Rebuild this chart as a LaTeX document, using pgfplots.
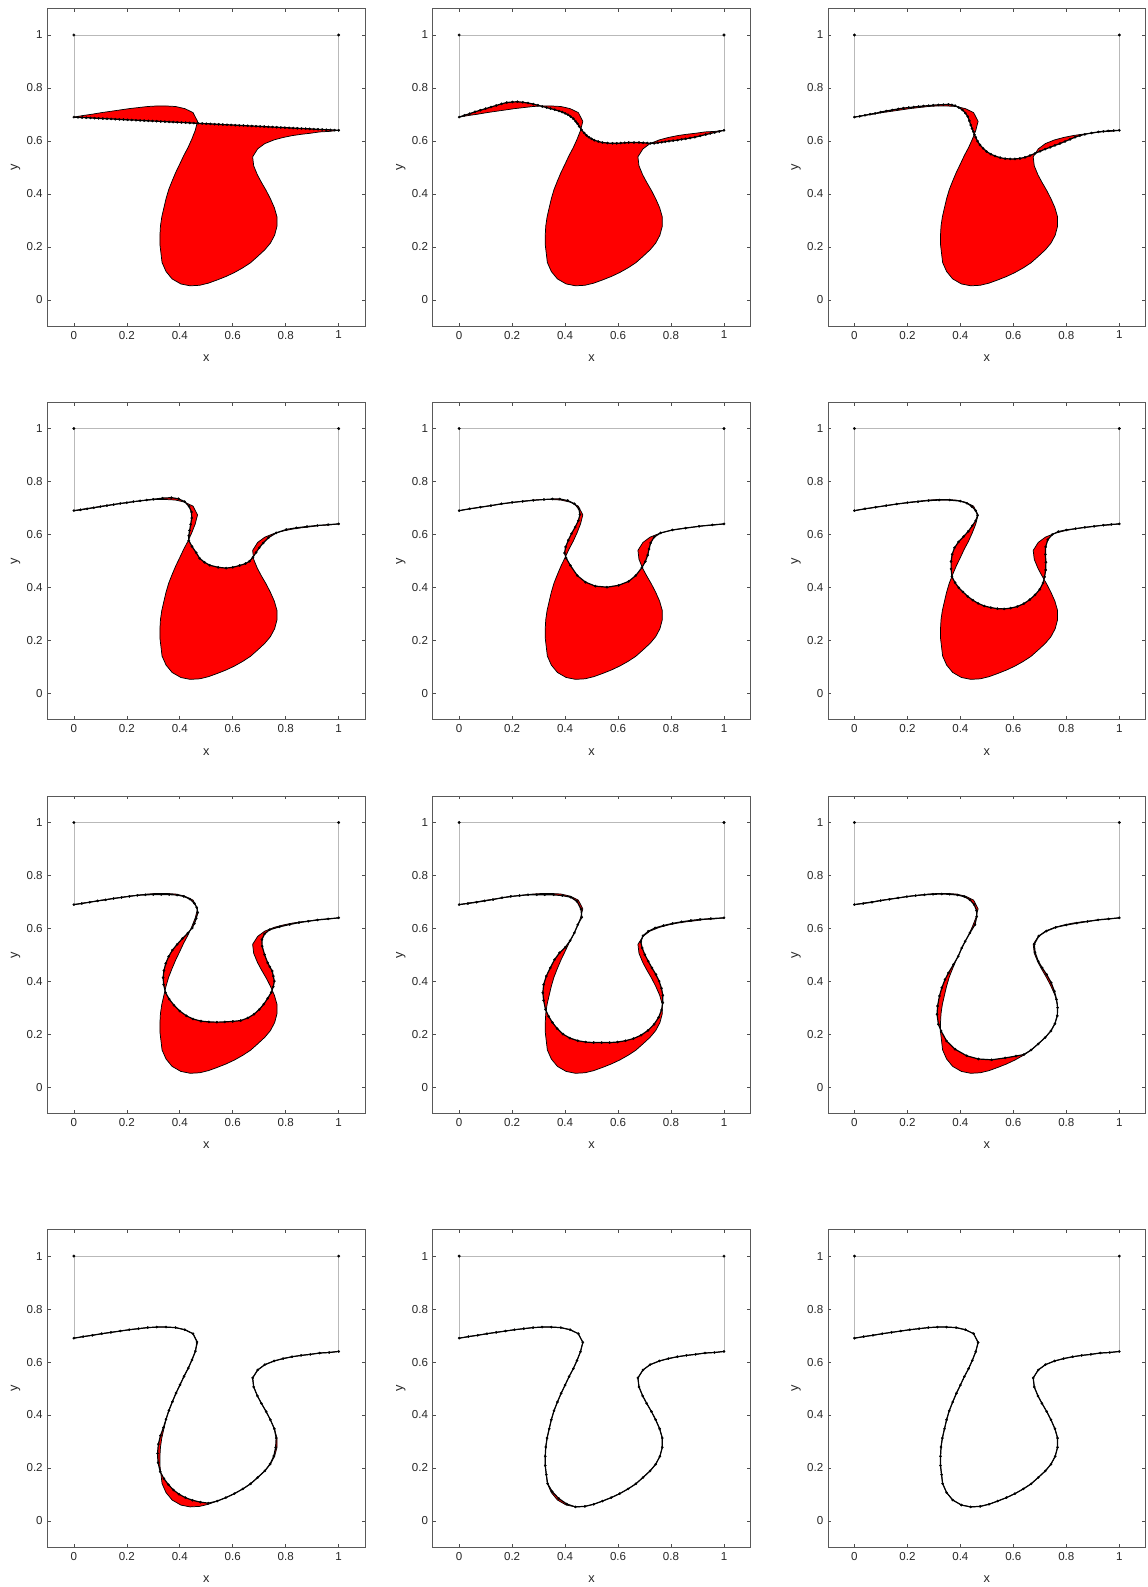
\documentclass[border=0pt]{standalone}
\usepackage{fontspec}
\setmainfont{Liberation Sans}
\usepackage{pgfplots}
\pgfplotsset{compat=1.18}
\usepackage{pgfplotstable}

% target curve
\pgfplotstableread{
x y
0.000 0.690
0.035 0.696
0.070 0.701
0.105 0.707
0.140 0.712
0.175 0.717
0.209 0.722
0.244 0.726
0.279 0.730
0.313 0.732
0.348 0.732
0.384 0.730
0.419 0.722
0.450 0.707
0.467 0.674
0.458 0.639
0.445 0.606
0.431 0.575
0.415 0.545
0.400 0.513
0.385 0.482
0.371 0.449
0.358 0.416
0.348 0.382
0.340 0.348
0.332 0.313
0.327 0.279
0.325 0.244
0.325 0.209
0.329 0.175
0.333 0.141
0.348 0.107
0.371 0.079
0.404 0.060
0.439 0.053
0.475 0.055
0.508 0.063
0.541 0.075
0.574 0.088
0.606 0.103
0.638 0.121
0.667 0.140
0.694 0.164
0.721 0.189
0.742 0.214
0.758 0.244
0.767 0.278
0.767 0.313
0.757 0.348
0.742 0.382
0.726 0.413
0.708 0.444
0.693 0.472
0.679 0.506
0.675 0.540
0.694 0.570
0.721 0.590
0.756 0.604
0.790 0.613
0.824 0.620
0.858 0.625
0.893 0.629
0.928 0.634
0.964 0.636
1.000 0.640
}\Target

% the same target curve, traversed backwards (closes the red polygons)
\pgfplotstableread{
x y
1.000 0.640
0.964 0.636
0.928 0.634
0.893 0.629
0.858 0.625
0.824 0.620
0.790 0.613
0.756 0.604
0.721 0.590
0.694 0.570
0.675 0.540
0.679 0.506
0.693 0.472
0.708 0.444
0.726 0.413
0.742 0.382
0.757 0.348
0.767 0.313
0.767 0.278
0.758 0.244
0.742 0.214
0.721 0.189
0.694 0.164
0.667 0.140
0.638 0.121
0.606 0.103
0.574 0.088
0.541 0.075
0.508 0.063
0.475 0.055
0.439 0.053
0.404 0.060
0.371 0.079
0.348 0.107
0.333 0.141
0.329 0.175
0.325 0.209
0.325 0.244
0.327 0.279
0.332 0.313
0.340 0.348
0.348 0.382
0.358 0.416
0.371 0.449
0.385 0.482
0.400 0.513
0.415 0.545
0.431 0.575
0.445 0.606
0.458 0.639
0.467 0.674
0.450 0.707
0.419 0.722
0.384 0.730
0.348 0.732
0.313 0.732
0.279 0.730
0.244 0.726
0.209 0.722
0.175 0.717
0.140 0.712
0.105 0.707
0.070 0.701
0.035 0.696
0.000 0.690
}\TargetRev

\pgfplotstableread{
x y
0.0000 0.6900
0.0156 0.6892
0.0313 0.6884
0.0469 0.6877
0.0625 0.6869
0.0781 0.6861
0.0938 0.6853
0.1094 0.6845
0.1250 0.6838
0.1406 0.6830
0.1563 0.6822
0.1719 0.6814
0.1875 0.6806
0.2031 0.6798
0.2188 0.6791
0.2344 0.6783
0.2500 0.6775
0.2656 0.6767
0.2813 0.6759
0.2969 0.6752
0.3125 0.6744
0.3281 0.6736
0.3438 0.6728
0.3594 0.6720
0.3750 0.6713
0.3906 0.6705
0.4063 0.6697
0.4219 0.6689
0.4375 0.6681
0.4531 0.6673
0.4688 0.6666
0.4844 0.6658
0.5000 0.6650
0.5156 0.6642
0.5313 0.6634
0.5469 0.6627
0.5625 0.6619
0.5781 0.6611
0.5938 0.6603
0.6094 0.6595
0.6250 0.6588
0.6406 0.6580
0.6563 0.6572
0.6719 0.6564
0.6875 0.6556
0.7031 0.6548
0.7188 0.6541
0.7344 0.6533
0.7500 0.6525
0.7656 0.6517
0.7813 0.6509
0.7969 0.6502
0.8125 0.6494
0.8281 0.6486
0.8438 0.6478
0.8594 0.6470
0.8750 0.6463
0.8906 0.6455
0.9063 0.6447
0.9219 0.6439
0.9375 0.6431
0.9531 0.6423
0.9688 0.6416
0.9844 0.6408
1.0000 0.6400
}\PA

\pgfplotstableread{
x y
0.000 0.690
0.020 0.697
0.040 0.703
0.060 0.710
0.080 0.716
0.100 0.722
0.120 0.728
0.140 0.734
0.160 0.740
0.180 0.745
0.201 0.747
0.220 0.748
0.240 0.746
0.260 0.743
0.280 0.739
0.297 0.735
0.314 0.730
0.330 0.726
0.345 0.722
0.361 0.718
0.377 0.713
0.389 0.709
0.400 0.704
0.411 0.699
0.421 0.692
0.431 0.684
0.440 0.674
0.447 0.665
0.453 0.655
0.462 0.642
0.472 0.630
0.481 0.621
0.490 0.614
0.500 0.608
0.510 0.603
0.525 0.598
0.541 0.594
0.560 0.592
0.579 0.591
0.595 0.591
0.610 0.592
0.625 0.593
0.640 0.594
0.660 0.594
0.679 0.594
0.695 0.593
0.710 0.592
0.723 0.591
0.736 0.591
0.750 0.593
0.765 0.595
0.778 0.597
0.792 0.599
0.808 0.601
0.825 0.603
0.840 0.606
0.855 0.608
0.872 0.611
0.890 0.614
0.910 0.619
0.931 0.624
0.948 0.628
0.965 0.632
0.982 0.636
1.000 0.640
}\PB

\pgfplotstableread{
x y
0.000 0.690
0.020 0.693
0.040 0.697
0.059 0.701
0.078 0.704
0.099 0.709
0.120 0.713
0.143 0.717
0.166 0.721
0.185 0.724
0.205 0.726
0.224 0.728
0.242 0.730
0.261 0.732
0.280 0.733
0.298 0.735
0.317 0.736
0.336 0.737
0.355 0.738
0.368 0.736
0.380 0.733
0.394 0.726
0.408 0.717
0.419 0.705
0.428 0.692
0.434 0.676
0.439 0.660
0.444 0.647
0.449 0.635
0.453 0.624
0.458 0.614
0.465 0.599
0.474 0.585
0.486 0.572
0.499 0.560
0.515 0.550
0.531 0.543
0.550 0.537
0.569 0.533
0.588 0.532
0.606 0.532
0.625 0.534
0.644 0.538
0.663 0.545
0.682 0.553
0.701 0.561
0.720 0.569
0.739 0.576
0.757 0.583
0.776 0.590
0.795 0.598
0.814 0.606
0.833 0.614
0.851 0.620
0.870 0.625
0.895 0.630
0.921 0.634
0.940 0.636
0.958 0.638
0.979 0.639
1.000 0.640
}\PC

\pgfplotstableread{
x y
0.000 0.690
0.025 0.693
0.050 0.697
0.075 0.701
0.100 0.705
0.125 0.709
0.150 0.713
0.175 0.717
0.200 0.720
0.225 0.724
0.250 0.727
0.275 0.730
0.300 0.733
0.335 0.737
0.368 0.739
0.395 0.735
0.418 0.724
0.435 0.706
0.444 0.685
0.445 0.662
0.441 0.638
0.437 0.615
0.434 0.595
0.434 0.577
0.446 0.555
0.462 0.531
0.475 0.510
0.493 0.495
0.513 0.484
0.545 0.476
0.575 0.473
0.600 0.476
0.626 0.483
0.648 0.490
0.663 0.499
0.676 0.514
0.688 0.532
0.700 0.550
0.715 0.568
0.735 0.588
0.764 0.606
0.802 0.619
0.840 0.625
0.880 0.630
0.920 0.634
0.960 0.637
1.000 0.640
}\PD

\pgfplotstableread{
x y
0.000 0.690
0.040 0.697
0.080 0.703
0.120 0.709
0.160 0.716
0.200 0.721
0.240 0.725
0.280 0.729
0.320 0.732
0.352 0.734
0.380 0.734
0.410 0.728
0.435 0.716
0.452 0.697
0.456 0.675
0.450 0.652
0.438 0.628
0.424 0.603
0.412 0.578
0.402 0.553
0.398 0.530
0.404 0.511
0.420 0.483
0.446 0.445
0.477 0.420
0.514 0.405
0.558 0.401
0.602 0.408
0.640 0.423
0.667 0.445
0.690 0.475
0.703 0.498
0.712 0.522
0.717 0.545
0.723 0.568
0.736 0.590
0.761 0.606
0.805 0.617
0.855 0.624
0.906 0.631
0.956 0.636
1.000 0.640
}\PE

\pgfplotstableread{
x y
0.000 0.690
0.040 0.697
0.080 0.703
0.120 0.709
0.160 0.715
0.200 0.720
0.240 0.724
0.280 0.728
0.320 0.730
0.360 0.730
0.400 0.726
0.425 0.718
0.443 0.706
0.458 0.690
0.465 0.672
0.458 0.652
0.445 0.633
0.430 0.612
0.412 0.592
0.393 0.572
0.378 0.550
0.369 0.525
0.365 0.498
0.365 0.470
0.368 0.441
0.380 0.418
0.394 0.399
0.410 0.383
0.428 0.366
0.447 0.352
0.467 0.340
0.490 0.330
0.515 0.324
0.540 0.320
0.565 0.319
0.590 0.322
0.615 0.328
0.640 0.339
0.662 0.354
0.682 0.372
0.700 0.393
0.712 0.417
0.718 0.440
0.722 0.466
0.723 0.495
0.721 0.525
0.722 0.553
0.730 0.580
0.747 0.600
0.770 0.611
0.800 0.617
0.835 0.622
0.870 0.627
0.905 0.631
0.940 0.635
0.970 0.638
1.000 0.640
}\PF

\pgfplotstableread{
x y
0.000 0.690
0.030 0.694
0.060 0.699
0.090 0.704
0.120 0.708
0.150 0.713
0.180 0.717
0.210 0.721
0.240 0.725
0.270 0.727
0.300 0.728
0.330 0.728
0.360 0.728
0.390 0.726
0.415 0.721
0.438 0.711
0.455 0.695
0.464 0.679
0.468 0.660
0.462 0.638
0.455 0.618
0.447 0.602
0.430 0.582
0.410 0.562
0.390 0.540
0.372 0.518
0.358 0.494
0.347 0.468
0.340 0.441
0.337 0.414
0.339 0.388
0.346 0.358
0.360 0.333
0.378 0.310
0.400 0.288
0.425 0.270
0.450 0.258
0.480 0.250
0.510 0.247
0.540 0.246
0.570 0.247
0.600 0.249
0.630 0.252
0.657 0.262
0.680 0.276
0.700 0.294
0.717 0.314
0.732 0.336
0.745 0.358
0.753 0.380
0.757 0.401
0.753 0.420
0.749 0.439
0.740 0.455
0.732 0.470
0.720 0.501
0.711 0.533
0.710 0.558
0.720 0.579
0.739 0.595
0.776 0.606
0.815 0.615
0.850 0.622
0.885 0.627
0.920 0.632
0.960 0.636
1.000 0.640
}\PG

\pgfplotstableread{
x y
0.000 0.690
0.033 0.694
0.066 0.699
0.096 0.704
0.128 0.709
0.162 0.716
0.195 0.721
0.228 0.724
0.260 0.727
0.293 0.727
0.323 0.727
0.357 0.727
0.390 0.724
0.421 0.718
0.445 0.702
0.460 0.673
0.463 0.642
0.448 0.614
0.435 0.583
0.419 0.554
0.401 0.529
0.379 0.508
0.360 0.482
0.344 0.451
0.329 0.420
0.319 0.388
0.316 0.357
0.319 0.328
0.326 0.294
0.338 0.268
0.352 0.245
0.370 0.222
0.392 0.201
0.418 0.186
0.448 0.176
0.478 0.171
0.508 0.169
0.538 0.169
0.568 0.169
0.598 0.171
0.628 0.176
0.658 0.184
0.687 0.197
0.713 0.215
0.736 0.238
0.753 0.264
0.764 0.292
0.769 0.320
0.769 0.347
0.764 0.374
0.755 0.401
0.743 0.426
0.728 0.451
0.714 0.476
0.701 0.501
0.691 0.526
0.686 0.549
0.694 0.572
0.714 0.589
0.740 0.602
0.772 0.611
0.806 0.619
0.840 0.625
0.875 0.630
0.910 0.634
0.950 0.637
1.000 0.640
}\PH

\pgfplotstableread{
x y
0.000 0.690
0.033 0.694
0.066 0.699
0.099 0.705
0.132 0.710
0.165 0.715
0.198 0.720
0.231 0.724
0.264 0.727
0.297 0.729
0.330 0.730
0.360 0.729
0.390 0.726
0.415 0.720
0.436 0.708
0.452 0.690
0.461 0.668
0.462 0.645
0.455 0.614
0.436 0.583
0.418 0.551
0.405 0.526
0.392 0.495
0.374 0.464
0.355 0.432
0.342 0.407
0.330 0.376
0.321 0.345
0.314 0.307
0.312 0.276
0.317 0.238
0.327 0.213
0.348 0.175
0.380 0.144
0.424 0.119
0.468 0.107
0.518 0.104
0.569 0.111
0.610 0.118
0.640 0.124
0.667 0.141
0.694 0.164
0.720 0.188
0.742 0.213
0.757 0.240
0.766 0.270
0.767 0.301
0.763 0.332
0.755 0.363
0.743 0.395
0.726 0.426
0.709 0.451
0.694 0.476
0.682 0.510
0.679 0.540
0.696 0.571
0.725 0.590
0.760 0.604
0.800 0.613
0.840 0.620
0.880 0.626
0.920 0.632
0.960 0.636
1.000 0.640
}\PI

\pgfplotstableread{
x y
0.000 0.690
0.035 0.696
0.070 0.701
0.105 0.707
0.140 0.712
0.175 0.717
0.209 0.722
0.244 0.726
0.279 0.730
0.313 0.732
0.348 0.732
0.384 0.730
0.419 0.722
0.450 0.707
0.465 0.676
0.459 0.641
0.446 0.608
0.432 0.577
0.416 0.546
0.401 0.514
0.386 0.483
0.372 0.450
0.359 0.417
0.348 0.384
0.338 0.352
0.327 0.322
0.319 0.290
0.316 0.255
0.318 0.220
0.326 0.186
0.340 0.160
0.357 0.137
0.376 0.117
0.397 0.101
0.421 0.088
0.448 0.078
0.478 0.071
0.508 0.067
0.541 0.075
0.574 0.088
0.606 0.103
0.638 0.121
0.667 0.140
0.694 0.164
0.721 0.189
0.741 0.215
0.755 0.245
0.762 0.278
0.764 0.313
0.757 0.348
0.742 0.382
0.726 0.413
0.708 0.444
0.693 0.472
0.679 0.506
0.675 0.540
0.694 0.570
0.721 0.590
0.756 0.604
0.790 0.613
0.824 0.620
0.858 0.625
0.893 0.629
0.928 0.634
0.964 0.636
1.000 0.640
}\PJ

\pgfplotstableread{
x y
0.000 0.690
0.035 0.696
0.070 0.701
0.105 0.707
0.140 0.712
0.175 0.717
0.209 0.722
0.244 0.726
0.279 0.730
0.313 0.732
0.348 0.732
0.384 0.730
0.419 0.722
0.450 0.707
0.467 0.674
0.458 0.639
0.445 0.606
0.431 0.575
0.415 0.545
0.400 0.513
0.385 0.482
0.371 0.449
0.358 0.416
0.348 0.382
0.340 0.348
0.332 0.313
0.327 0.279
0.325 0.244
0.325 0.209
0.329 0.175
0.334 0.141
0.351 0.111
0.376 0.085
0.406 0.064
0.439 0.053
0.475 0.055
0.508 0.063
0.541 0.075
0.574 0.088
0.606 0.103
0.638 0.121
0.667 0.140
0.694 0.164
0.721 0.189
0.742 0.214
0.758 0.244
0.767 0.278
0.767 0.313
0.757 0.348
0.742 0.382
0.726 0.413
0.708 0.444
0.693 0.472
0.679 0.506
0.675 0.540
0.694 0.570
0.721 0.590
0.756 0.604
0.790 0.613
0.824 0.620
0.858 0.625
0.893 0.629
0.928 0.634
0.964 0.636
1.000 0.640
}\PK

% append the reversed target to each approximation: rows 0..N-1 are the
% approximation, the rest closes the red polygon
\pgfplotstablegetrowsof{\PA}\edef\NA{\pgfplotsretval}\pgfplotstablevertcat{\PA}{\TargetRev}
\pgfplotstablegetrowsof{\PB}\edef\NB{\pgfplotsretval}\pgfplotstablevertcat{\PB}{\TargetRev}
\pgfplotstablegetrowsof{\PC}\edef\NC{\pgfplotsretval}\pgfplotstablevertcat{\PC}{\TargetRev}
\pgfplotstablegetrowsof{\PD}\edef\ND{\pgfplotsretval}\pgfplotstablevertcat{\PD}{\TargetRev}
\pgfplotstablegetrowsof{\PE}\edef\NE{\pgfplotsretval}\pgfplotstablevertcat{\PE}{\TargetRev}
\pgfplotstablegetrowsof{\PF}\edef\NF{\pgfplotsretval}\pgfplotstablevertcat{\PF}{\TargetRev}
\pgfplotstablegetrowsof{\PG}\edef\NG{\pgfplotsretval}\pgfplotstablevertcat{\PG}{\TargetRev}
\pgfplotstablegetrowsof{\PH}\edef\NH{\pgfplotsretval}\pgfplotstablevertcat{\PH}{\TargetRev}
\pgfplotstablegetrowsof{\PI}\edef\NI{\pgfplotsretval}\pgfplotstablevertcat{\PI}{\TargetRev}
\pgfplotstablegetrowsof{\PJ}\edef\NJ{\pgfplotsretval}\pgfplotstablevertcat{\PJ}{\TargetRev}
\pgfplotstablegetrowsof{\PK}\edef\NK{\pgfplotsretval}\pgfplotstablevertcat{\PK}{\TargetRev}

\pgfplotsset{
  panel/.style={
    scale only axis, width=238.8pt, height=238.8pt,
    xmin=-0.1, xmax=1.1, ymin=-0.1, ymax=1.1,
    xtick={0,0.2,0.4,0.6,0.8,1}, ytick={0,0.2,0.4,0.6,0.8,1},
    xticklabels={0,0.2,0.4,0.6,0.8,1}, yticklabels={0,0.2,0.4,0.6,0.8,1},
    /pgf/number format/assume math mode=true,
    tick align=inside, major tick length=2.6pt,
    axis line style={black!65, line width=0.6pt},
    every tick/.style={black!70, line width=0.5pt},
    tick label style={font=\fontsize{8.7}{10}\selectfont, text=black!85},
    xlabel={x}, ylabel={y},
    label style={font=\fontsize{9.6}{11}\selectfont, text=black!85},
    xlabel style={at={(axis description cs:0.5,-0.1)}, anchor=center},
    ylabel style={at={(axis description cs:-0.1,0.5)}, anchor=center},
  }
}

% #1,#2 position, #3 table (approx + reversed target), #4 number of approx rows
\newcommand{\panel}[4]{%
\begin{axis}[panel, at={(#1,#2)}, anchor=north west]
\addplot[gray!55, line width=0.5pt] coordinates {(0,0.69) (0,1) (1,1) (1,0.64)};
\addplot[fill=red, draw=none] table {#3};
\addplot[black, line width=0.55pt] table {\Target};
\addplot[black, line width=0.9pt, mark=*, mark size=0.9pt, mark options={line width=0.2pt},
  skip coords between index={#4}{100000}] table {#3};
\addplot[black, only marks, mark=*, mark size=1pt, mark options={line width=0.2pt}] coordinates {(0,1) (1,1)};
\end{axis}}

\newcommand{\panelnofill}[3]{%
\begin{axis}[panel, at={(#1,#2)}, anchor=north west]
\addplot[gray!55, line width=0.5pt] coordinates {(0,0.69) (0,1) (1,1) (1,0.64)};
\addplot[black, line width=0.55pt] table {\Target};
\addplot[black, line width=0.9pt, mark=*, mark size=0.9pt, mark options={line width=0.2pt}] table {#3};
\addplot[black, only marks, mark=*, mark size=1pt, mark options={line width=0.2pt}] coordinates {(0,1) (1,1)};
\end{axis}}

\begin{document}
\begin{tikzpicture}
\path (0pt,0pt) rectangle (862.5pt,-1190.25pt);
\panel{35.6pt}{-6.4pt}{\PA}{\NA}
\panel{325.1pt}{-6.4pt}{\PB}{\NB}
\panel{622.1pt}{-6.4pt}{\PC}{\NC}
\panel{35.6pt}{-302.1pt}{\PD}{\ND}
\panel{325.1pt}{-302.1pt}{\PE}{\NE}
\panel{622.1pt}{-302.1pt}{\PF}{\NF}
\panel{35.6pt}{-598.1pt}{\PG}{\NG}
\panel{325.1pt}{-598.1pt}{\PH}{\NH}
\panel{622.1pt}{-598.1pt}{\PI}{\NI}
\panel{35.6pt}{-923.9pt}{\PJ}{\NJ}
\panel{325.1pt}{-923.9pt}{\PK}{\NK}
\panelnofill{622.1pt}{-923.9pt}{\Target}
\end{tikzpicture}
\end{document}
